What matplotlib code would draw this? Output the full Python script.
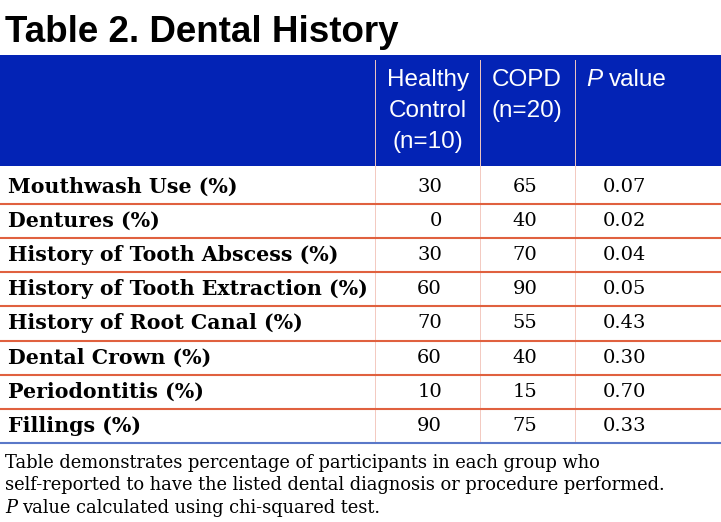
import matplotlib
matplotlib.use('Agg')
import matplotlib.pyplot as plt

# table content
title = 'Table 2. Dental History'
row_labels = [
    'Mouthwash Use (%)',
    'Dentures (%)',
    'History of Tooth Abscess (%)',
    'History of Tooth Extraction (%)',
    'History of Root Canal (%)',
    'Dental Crown (%)',
    'Periodontitis (%)',
    'Fillings (%)',
]
healthy_pct = [30, 0, 30, 60, 70, 60, 10, 90]
copd_pct = [65, 40, 70, 90, 55, 40, 15, 75]
p_values = ['0.07', '0.02', '0.04', '0.05', '0.43', '0.30', '0.70', '0.33']
header_healthy = ['Healthy', 'Control', '(n=10)']
header_copd = ['COPD', '(n=20)']
footnote = ['Table demonstrates percentage of participants in each group who',
            'self-reported to have the listed dental diagnosis or procedure performed.',
            'value calculated using chi-squared test.']

W, H = 721, 522
fig = plt.figure(figsize=(W / 100, H / 100), dpi=100)
ax = fig.add_axes([0, 0, 1, 1])
ax.set_xlim(0, W)
ax.set_ylim(H, 0)
ax.axis('off')

BLUE = '#0323b5'
RED = '#e0613f'
PINK = '#f3c9c0'
SANS = 'Liberation Sans'
SERIF = 'DejaVu Serif'

# layout (pixel units)
head_top, head_bot = 55, 166
body_top = 170
row_h = 34.1
col_lines = [375, 480, 575]
x_hc, x_copd, x_p = 442, 525, 603
hdr_base = [86, 117, 148]

ax.text(5, 32, title, fontsize=26.5, fontweight='bold', family=SANS,
        va='center', ha='left')

ax.axhspan(head_top, head_bot, color=BLUE, lw=0)
hdr = dict(fontsize=17.5, color='white', family=SANS, va='baseline')
for k, txt in enumerate(header_healthy):
    ax.text(428, hdr_base[k], txt, ha='center', **hdr)
for k, txt in enumerate(header_copd):
    ax.text(527, hdr_base[k], txt, ha='center', **hdr)
ax.text(586, hdr_base[0], 'P', ha='left', style='italic', **hdr)
ax.text(609, hdr_base[0], 'value', ha='left', **hdr)

n = len(row_labels)
for x in col_lines:
    ax.plot([x, x], [head_top + 5, body_top + row_h * n],
            color=PINK, lw=0.7, zorder=1)

for i, lab in enumerate(row_labels):
    yc = body_top + row_h * (i + 0.5)
    ax.text(8, yc, lab, fontsize=14.8, fontweight='bold', family=SERIF,
            va='center', ha='left')
    ax.text(x_hc, yc, str(healthy_pct[i]), fontsize=14, family=SERIF,
            va='center', ha='right')
    ax.text(x_copd, yc, str(copd_pct[i]), fontsize=14, family=SERIF,
            va='center', ha='center')
    ax.text(x_p, yc, p_values[i], fontsize=14, family=SERIF,
            va='center', ha='left')
    yb = body_top + row_h * (i + 1)
    ax.plot([0, W], [yb, yb], color=RED if i < n - 1 else '#5a78c8',
            lw=1.5, zorder=2)

fy = body_top + row_h * n + 20
for j, line in enumerate(footnote):
    x0 = 5
    if j == 2:
        ax.text(x0, fy + 22.5 * j, 'P', fontsize=12.9, style='italic',
                family=SERIF, va='center', ha='left')
        x0 = 22
    ax.text(x0, fy + 22.5 * j, line, fontsize=12.9, family=SERIF,
            va='center', ha='left')

fig.savefig('out.png', dpi=100)
